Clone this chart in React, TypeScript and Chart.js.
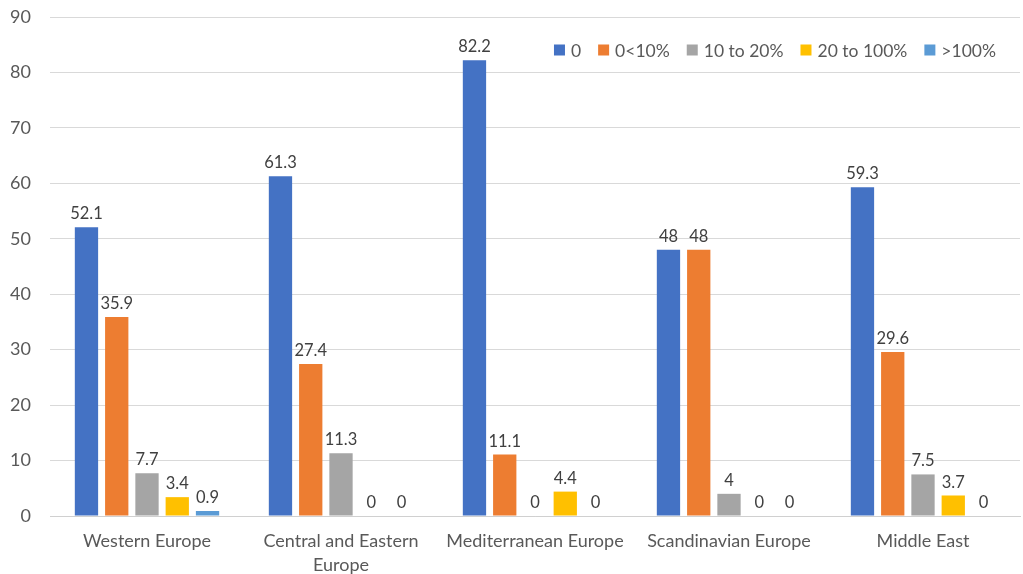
import React, { useEffect, useRef } from "react";
import { Chart, registerables } from "chart.js";

Chart.register(...registerables);

const categories: (string | string[])[] = [
  "Western Europe",
  ["Central and Eastern", "Europe"],
  "Mediterranean Europe",
  "Scandinavian Europe",
  "Middle East",
];
const seriesNames = ["0", "0<10%", "10 to 20%", "20 to 100%", ">100%"];
const s0 = [52.1, 61.3, 82.2, 48, 59.3];
const s1 = [35.9, 27.4, 11.1, 48, 29.6];
const s2 = [7.7, 11.3, 0, 4, 7.5];
const s3 = [3.4, 0, 4.4, 0, 3.7];
const s4 = [0.9, 0, 0, 0, 0];
const colors = ["#4472C4", "#ED7D31", "#A5A5A5", "#FFC000", "#5B9BD5"];
const yTicks = [0, 10, 20, 30, 40, 50, 60, 70, 80, 90];

const FONT = "Lato, 'Open Sans', sans-serif";

const labelPlugin = {
  id: "valueLabels",
  afterDatasetsDraw(chart: any) {
    const ctx = chart.ctx;
    ctx.save();
    ctx.font = `16.5px ${FONT}`;
    ctx.fillStyle = "#404040";
    ctx.textAlign = "center";
    ctx.textBaseline = "bottom";
    chart.data.datasets.forEach((ds: any, i: number) => {
      const meta = chart.getDatasetMeta(i);
      meta.data.forEach((bar: any, j: number) => {
        const v = ds.data[j];
        ctx.fillText(String(v), bar.x, bar.y - 5);
      });
    });
    ctx.restore();
  },
};

const legendPlugin = {
  id: "customLegend",
  afterDraw(chart: any) {
    const ctx = chart.ctx;
    const area = chart.chartArea;
    ctx.save();
    ctx.font = `17.5px ${FONT}`;
    ctx.textBaseline = "middle";
    ctx.textAlign = "left";
    const box = 11;
    const gapBoxText = 6;
    const gapItems = 17;
    const widths = chart.data.datasets.map((d: any) => ctx.measureText(d.label).width);
    let total = 0;
    widths.forEach((w: number, i: number) => {
      total += box + gapBoxText + w + (i > 0 ? gapItems : 0);
    });
    let x = area.right - 24 - total;
    const y = area.top + 33;
    chart.data.datasets.forEach((d: any, i: number) => {
      ctx.fillStyle = d.backgroundColor;
      ctx.fillRect(x, y - box / 2, box, box);
      x += box + gapBoxText;
      ctx.fillStyle = "#595959";
      ctx.fillText(d.label, x, y + 1);
      x += widths[i] + gapItems;
    });
    ctx.restore();
  },
};

export default function App() {
  const ref = useRef<HTMLCanvasElement>(null);
  useEffect(() => {
    const data = [s0, s1, s2, s3, s4];
    const chart = new Chart(ref.current!, {
      type: "bar",
      data: {
        labels: categories,
        datasets: seriesNames.map((n, i) => ({
          label: n,
          data: data[i],
          backgroundColor: colors[i],
          categoryPercentage: 0.78,
          barPercentage: 0.77,
        })),
      },
      options: {
        animation: false,
        responsive: false,
        maintainAspectRatio: false,
        layout: { padding: { top: 17, right: 3, left: 0, bottom: 0 } },
        plugins: {
          legend: { display: false },
          tooltip: { enabled: false },
        },
        scales: {
          x: {
            grid: { display: false },
            border: { color: "#d0d0d0" },
            ticks: {
              color: "#595959",
              font: { size: 18, family: FONT, lineHeight: 1.35 },
              maxRotation: 0,
              padding: 5,
            },
            afterFit: (s: any) => {
              s.height = 58;
            },
          },
          y: {
            min: 0,
            max: 90,
            afterBuildTicks: (s: any) => {
              s.ticks = yTicks.map((v) => ({ value: v }));
            },
            grid: { color: "#d9d9d9", tickLength: 19, tickColor: "rgba(0,0,0,0)" },
            border: { display: false },
            ticks: {
              color: "#595959",
              font: { size: 18, family: FONT },
              padding: 0,
            },
            afterFit: (s: any) => {
              s.width = 50;
            },
          },
        },
      },
      plugins: [labelPlugin, legendPlugin],
    });
    return () => chart.destroy();
  }, []);
  return (
    <div style={{ position: "absolute", left: 0, top: 0, width: 1023, height: 574, background: "#fff" }}>
      <canvas ref={ref} width={1023} height={574} />
    </div>
  );
}
